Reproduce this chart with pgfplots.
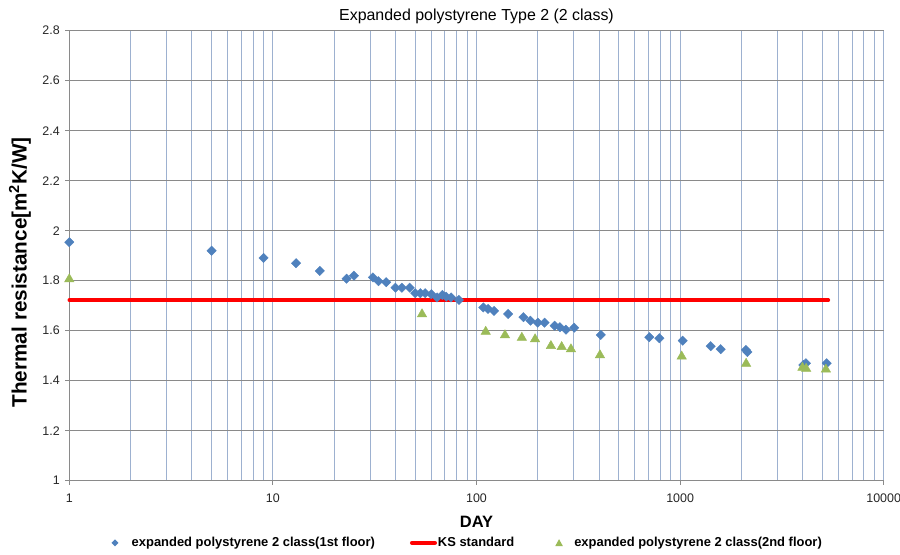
\documentclass[border=0pt]{standalone}
\usepackage{pgfplots}
\pgfplotsset{compat=1.18}
\usepackage{fontspec}
\setmainfont{Liberation Sans}
\definecolor{serblue}{HTML}{4F81BD}
\definecolor{sergreen}{HTML}{9BBB59}
\definecolor{gridgray}{HTML}{8A8A8A}
\definecolor{gridblue}{HTML}{9DB1D0}
\begin{document}
\begin{tikzpicture}
\path[use as bounding box] (0,0) rectangle (900bp,555bp);
\begin{axis}[
  at={(69.3bp,74.3bp)}, anchor=south west,
  scale only axis, width=814.4bp, height=450bp,
  xmode=log, log basis x=10,
  xmin=1, xmax=10000, ymin=1, ymax=2.8,
  xtick={1,10,100,1000,10000},
  xticklabels={1,10,100,1000,10000},
  minor xtick={2,3,4,5,6,7,8,9,20,30,40,50,60,70,80,90,200,300,400,500,600,700,800,900,2000,3000,4000,5000,6000,7000,8000,9000},
  ytick={1,1.2,1.4,1.6,1.8,2,2.2,2.4,2.6,2.8},
  yticklabels={1,1.2,1.4,1.6,1.8,2,2.2,2.4,2.6,2.8},
  axis x line*=bottom, axis y line*=left,
  axis line style={gridgray, line width=1bp, -},
  tick align=outside,
  major tick length=4bp, minor tick length=0bp,
  tick style={gridgray, line width=1bp},
  xmajorgrids, xminorgrids, ymajorgrids,
  major x grid style={gridblue, line width=1bp},
  minor x grid style={gridblue, line width=1bp},
  major y grid style={gridgray, line width=1bp},
  /pgf/number format/assume math mode=true,
  ticklabel style={font=\fontsize{12.5}{14}\selectfont, text=black!85},
  yticklabel style={xshift=-2bp},
  xticklabel style={yshift=-6bp},
  clip=false,
  title={Expanded polystyrene Type 2 (2 class)},
  title style={font=\fontsize{16}{19}\selectfont, at={(axis description cs:0.5,1)}, anchor=center, yshift=8.5bp},
  xlabel={DAY},
  xlabel style={font=\bfseries\fontsize{16.5}{19}\selectfont, at={(axis description cs:0.5,-0.0911)}, anchor=center},
  ylabel={Thermal resistance[m\textsuperscript{2}K/W]},
  ylabel style={font=\bfseries\fontsize{20.8}{24}\selectfont, at={(axis description cs:-0.0605,0.463)}, anchor=center},
  legend columns=3,
  legend cell align=left,
  legend style={at={(axis description cs:0.0518,-0.138)}, anchor=west, draw=none, fill=none,
    inner sep=0bp, outer sep=0bp,
    nodes={inner sep=4bp},
    font=\bfseries\fontsize{13}{15}\selectfont,
    /tikz/every odd column/.append style={column sep=0bp},
    /tikz/column 2/.append style={column sep=33bp},
    /tikz/column 4/.append style={column sep=37bp}},
]
\addplot[only marks, color=serblue, mark=square*, mark size=3.3bp, mark options={rotate=45, fill=serblue, draw=serblue},
  legend image code/.code={\path[draw=none, fill=none] (0bp,0bp) -- (16.2bp,0bp);
    \fill[serblue, draw=none] (0bp,0bp) -- (3.5bp,3.5bp) -- (7bp,0bp) -- (3.5bp,-3.5bp) -- cycle;}] coordinates {
(1,1.954) (5,1.92) (9,1.891) (13,1.87) (17,1.839) (23,1.808) (25,1.82)
(31,1.813) (33,1.798) (36,1.794) (40,1.772) (43,1.772) (47,1.772)
(50,1.75) (53,1.75) (56,1.75) (60,1.746) (64,1.733) (68,1.743) (71,1.736)
(75,1.733) (82,1.723) (108,1.693) (114,1.687) (122,1.679) (143,1.667)
(170,1.654) (184,1.64) (200,1.632) (216,1.632) (242,1.62) (257,1.614)
(275,1.604) (302,1.612) (408,1.583) (706,1.574) (791,1.57) (1030,1.56)
(1413,1.538) (1582,1.526) (2107,1.523) (2140,1.515) (4028,1.463)
(4153,1.47) (5250,1.47)
};
\addlegendentry{expanded polystyrene 2 class(1st floor)}
\addplot[color=red, line width=3.5bp, line cap=round,
  legend image code/.code={\path[draw=none, fill=none] (0bp,0bp) -- (22bp,0bp);
    \draw[overlay, red, line width=4bp] (0bp,0bp) -- (23bp,0bp);}] coordinates {
(1,1.722) (5350,1.722)
};
\addlegendentry{KS standard}
\addplot[only marks, color=sergreen, mark=triangle*, mark size=5.5bp, mark options={fill=sergreen, draw=sergreen},
  legend image code/.code={\path[draw=none, fill=none] (0bp,0bp) -- (15bp,0bp);
    \fill[sergreen, draw=none] (0bp,-3.2bp) -- (7.6bp,-3.2bp) -- (3.8bp,3.6bp) -- cycle;}] coordinates {
(1,1.806) (54,1.666) (111,1.596) (138,1.582) (167,1.572) (194,1.566)
(232,1.539) (262,1.535) (291,1.526) (404,1.502) (1018,1.497)
(2110,1.468) (3990,1.452) (4160,1.448) (5200,1.445)
};
\addlegendentry{expanded polystyrene 2 class(2nd floor)}
\end{axis}
\end{tikzpicture}
\end{document}
